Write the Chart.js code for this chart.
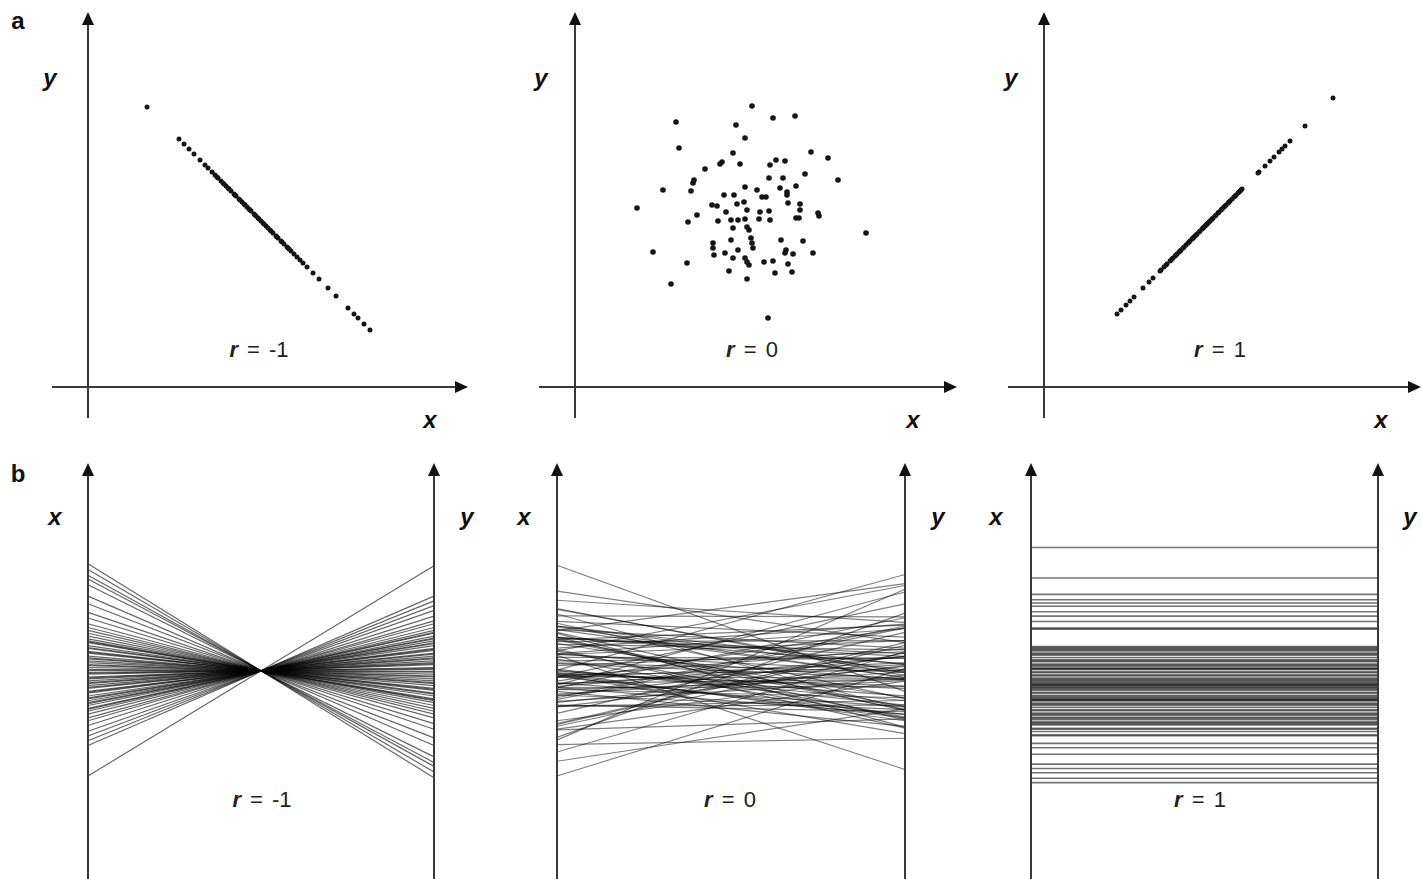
<!DOCTYPE html>
<html>
<head>
<meta charset="utf-8">
<script src="https://cdn.jsdelivr.net/npm/chart.js@4.4.1/dist/chart.umd.min.js"></script>
<style>
  html, body { margin: 0; padding: 0; background: #fff; }
  body { width: 1422px; height: 879px; position: relative; overflow: hidden;
         font-family: 'Liberation Sans', Arial, sans-serif; color: #111; }
  canvas { position: absolute; }
  .lbl { position: absolute; transform: translate(-50%, -50%); white-space: nowrap; line-height: 1; }
  .ax { font-weight: bold; font-style: italic; font-size: 24px; }
  .panel { font-weight: bold; font-size: 24px; }
  .r { font-size: 22px; word-spacing: 3px; color: #222; }
  .r i { font-weight: bold; }
</style>
</head>
<body>
<div class="lbl panel" style="left:18px;top:21px">a</div>
<div class="lbl panel" style="left:18px;top:474px">b</div>

<div class="lbl ax" style="left:50px;top:78px">y</div>
<div class="lbl ax" style="left:541px;top:78px">y</div>
<div class="lbl ax" style="left:1011px;top:78px">y</div>
<div class="lbl ax" style="left:430px;top:420px">x</div>
<div class="lbl ax" style="left:913px;top:420px">x</div>
<div class="lbl ax" style="left:1381px;top:420px">x</div>

<div class="lbl ax" style="left:55px;top:517px">x</div>
<div class="lbl ax" style="left:467px;top:517px">y</div>
<div class="lbl ax" style="left:524px;top:517px">x</div>
<div class="lbl ax" style="left:938px;top:517px">y</div>
<div class="lbl ax" style="left:996px;top:517px">x</div>
<div class="lbl ax" style="left:1410px;top:517px">y</div>

<div class="lbl r" style="left:259px;top:350px"><i>r</i> = -1</div>
<div class="lbl r" style="left:752px;top:350px"><i>r</i> = 0</div>
<div class="lbl r" style="left:1220px;top:350px"><i>r</i> = 1</div>
<div class="lbl r" style="left:262px;top:800px"><i>r</i> = -1</div>
<div class="lbl r" style="left:730px;top:800px"><i>r</i> = 0</div>
<div class="lbl r" style="left:1200px;top:800px"><i>r</i> = 1</div>

<script>
// r = -1 : y falls exactly as x rises
const negX = [28.2, 27.6, 27.0, 26.6, 26.0, 24.8, 24.0, 23.1, 22.5, 21.9, 21.5, 21.2, 20.9, 20.6, 20.3,
  20.1, 20.0, 19.9, 19.6, 19.4, 19.3, 19.0, 18.9, 18.8, 18.5, 18.3, 18.2, 18.0, 17.8, 17.6, 17.5, 17.3,
  17.1, 17.0, 16.8, 16.7, 16.6, 16.3, 16.2, 16.1, 15.9, 15.7, 15.6, 15.4, 15.2, 15.1, 14.8, 14.7, 14.6,
  14.3, 14.1, 14.0, 13.8, 13.6, 13.5, 13.3, 13.0, 12.9, 12.7, 12.4, 12.0, 11.7, 11.2, 10.6, 10.1, 9.6, 9.1, 5.9];
const negY = [5.7, 6.3, 6.9, 7.3, 7.9, 9.1, 9.9, 10.8, 11.4, 12.0, 12.4, 12.7, 13.0, 13.3, 13.6,
  13.8, 13.9, 14.0, 14.3, 14.5, 14.6, 14.9, 15.0, 15.1, 15.4, 15.6, 15.7, 15.9, 16.1, 16.3, 16.4, 16.6,
  16.8, 16.9, 17.1, 17.2, 17.3, 17.6, 17.7, 17.8, 18.0, 18.2, 18.3, 18.5, 18.7, 18.8, 19.1, 19.2, 19.3,
  19.6, 19.8, 19.9, 20.1, 20.3, 20.4, 20.6, 20.9, 21.0, 21.2, 21.5, 21.9, 22.2, 22.7, 23.3, 23.8, 24.3, 24.8, 28.0];

// r = 0 : uncorrelated cloud
const midX = [17.7, 10.1, 16.1, 17.0, 10.4, 15.8, 14.7, 14.5, 16.5, 13.0, 11.9, 11.8, 17.0, 8.8, 11.6,
  14.9, 15.9, 6.2, 13.7, 14.2, 16.2, 16.9, 15.1, 17.2, 12.2, 19.8, 22.0, 23.6, 25.3, 20.1, 21.0, 19.5,
  23.0, 19.4, 20.8, 26.3, 22.1, 18.2, 20.5, 21.2, 21.2, 18.7, 19.1, 21.3, 22.5, 22.5, 18.5, 19.4, 24.3,
  11.3, 14.3, 15.6, 16.3, 17.0, 15.8, 17.2, 17.4, 17.6, 15.6, 13.8, 13.8, 7.8, 16.3, 15.0, 13.9, 15.8,
  17.0, 17.2, 17.4, 11.2, 15.4, 9.6, 17.2, 22.1, 22.4, 24.4, 18.4, 19.5, 29.1, 17.7, 17.8, 20.6, 22.8,
  21.1, 21.0, 21.8, 23.8, 18.9, 19.8, 21.3, 20.0, 21.7, 19.3];
const midY = [28.1, 26.5, 26.2, 24.9, 23.9, 23.4, 22.5, 22.3, 22.3, 21.8, 20.7, 20.4, 20.0, 19.7, 19.6,
  19.2, 19.2, 17.9, 18.2, 18.1, 18.3, 18.5, 17.5, 17.7, 17.2, 26.9, 27.1, 23.5, 22.9, 22.7, 22.6, 22.2,
  21.3, 20.9, 20.9, 20.7, 20.1, 19.7, 19.9, 19.5, 19.2, 19.0, 19.0, 18.4, 18.3, 17.7, 17.5, 17.6, 17.4,
  16.5, 16.6, 16.7, 16.7, 16.8, 15.9, 16.0, 15.7, 14.9, 14.7, 14.4, 13.9, 13.5, 13.7, 13.4, 13.2, 12.9,
  12.9, 12.5, 12.2, 12.4, 11.6, 10.3, 10.8, 16.9, 16.9, 17.1, 16.8, 16.7, 15.4, 14.4, 13.9, 14.7, 14.6,
  13.7, 13.4, 13.3, 13.4, 12.5, 12.6, 12.3, 11.4, 11.5, 6.9];

// r = 1 : y equals x
const posX = [28.9, 26.1, 24.6, 24.1, 23.8, 23.5, 23.0, 22.6, 22.1, 21.5, 21.4, 19.8, 19.7, 19.6, 19.5,
  19.4, 19.2, 19.1, 19.0, 18.8, 18.6, 18.5, 18.4, 18.2, 18.1, 18.0, 17.8, 17.8, 17.7, 17.5, 17.4, 17.2,
  17.1, 16.9, 16.8, 16.7, 16.6, 16.5, 16.4, 16.3, 16.3, 16.2, 16.1, 16.0, 15.9, 15.8, 15.6, 15.5, 15.3,
  15.2, 15.1, 15.0, 14.9, 14.9, 14.8, 14.6, 14.5, 14.4, 14.2, 14.0, 13.9, 13.7, 13.6, 13.5, 13.3, 13.2,
  13.1, 12.9, 12.8, 12.7, 12.6, 12.3, 12.2, 12.0, 11.7, 11.6, 10.9, 10.5, 9.9, 9.0, 8.6, 8.2, 7.7, 7.3];
const posY = [28.9, 26.1, 24.6, 24.1, 23.8, 23.5, 23.0, 22.6, 22.1, 21.5, 21.4, 19.8, 19.7, 19.6, 19.5,
  19.4, 19.2, 19.1, 19.0, 18.8, 18.6, 18.5, 18.4, 18.2, 18.1, 18.0, 17.8, 17.8, 17.7, 17.5, 17.4, 17.2,
  17.1, 16.9, 16.8, 16.7, 16.6, 16.5, 16.4, 16.3, 16.3, 16.2, 16.1, 16.0, 15.9, 15.8, 15.6, 15.5, 15.3,
  15.2, 15.1, 15.0, 14.9, 14.9, 14.8, 14.6, 14.5, 14.4, 14.2, 14.0, 13.9, 13.7, 13.6, 13.5, 13.3, 13.2,
  13.1, 12.9, 12.8, 12.7, 12.6, 12.3, 12.2, 12.0, 11.7, 11.6, 10.9, 10.5, 9.9, 9.0, 8.6, 8.2, 7.7, 7.3];

const AXIS_COLOR = '#3a3a3a';
const TOP_H = 440, TOP_OY = 387, PX = 10;
const BOT_TOP = 455, BOT_W = 420, BOT_H = 424;

function arrowUp(ctx, px, tip) {
    ctx.beginPath();
    ctx.moveTo(px, tip);
    ctx.lineTo(px - 6, tip + 13);
    ctx.lineTo(px + 6, tip + 13);
    ctx.closePath();
    ctx.fill();
}

function arrowRight(ctx, tip, py) {
    ctx.beginPath();
    ctx.moveTo(tip, py);
    ctx.lineTo(tip - 13, py - 6);
    ctx.lineTo(tip - 13, py + 6);
    ctx.closePath();
    ctx.fill();
}

// draws the arrowed axes: a cross for scatter panels, two uprights for parallel panels
const arrowAxes = {
    id: 'arrowAxes',
    afterDatasetsDraw(chart, args, opts) {
        const {ctx, chartArea, scales: {x, y}} = chart;
        ctx.save();
        ctx.strokeStyle = AXIS_COLOR;
        ctx.fillStyle = '#111';
        ctx.lineWidth = 2;
        if (opts.mode === 'cross') {
            const ox = Math.round(x.getPixelForValue(0));
            const oy = Math.round(y.getPixelForValue(0));
            const yTip = y.getPixelForValue(opts.yTo);
            const xTip = x.getPixelForValue(opts.xTo);
            ctx.beginPath();
            ctx.moveTo(ox, y.getPixelForValue(opts.yFrom));
            ctx.lineTo(ox, yTip + 8);
            ctx.moveTo(x.getPixelForValue(opts.xFrom), oy);
            ctx.lineTo(xTip - 8, oy);
            ctx.stroke();
            arrowUp(ctx, ox, yTip);
            arrowRight(ctx, xTip, oy);
        } else {
            [0, 1].forEach(v => {
                const px = Math.round(x.getPixelForValue(v));
                const tip = chartArea.top + opts.tip;
                ctx.beginPath();
                ctx.moveTo(px, chartArea.bottom);
                ctx.lineTo(px, tip + 8);
                ctx.stroke();
                arrowUp(ctx, px, tip);
            });
        }
        ctx.restore();
    }
};

function makeCanvas(left, top, w, h) {
    const c = document.createElement('canvas');
    c.width = w;
    c.height = h;
    c.style.left = left + 'px';
    c.style.top = top + 'px';
    document.body.appendChild(c);
    return c;
}

const baseOptions = {
    responsive: false,
    animation: false,
    events: [],
    layout: {padding: 0, autoPadding: false}
};

function scatterPanel(left, width, originX, xs, ys, xTip, radius) {
    new Chart(makeCanvas(left, 0, width, TOP_H), {
        type: 'scatter',
        data: {
            datasets: [{
                data: xs.map((v, i) => ({x: v, y: ys[i]})),
                pointRadius: radius,
                pointBackgroundColor: '#151515',
                pointBorderWidth: 0
            }]
        },
        options: {
            ...baseOptions,
            scales: {
                x: {type: 'linear', display: false, min: (left - originX) / PX, max: (left + width - originX) / PX},
                y: {type: 'linear', display: false, min: -(TOP_H - TOP_OY) / PX, max: TOP_OY / PX}
            },
            plugins: {
                legend: {display: false},
                tooltip: {enabled: false},
                arrowAxes: {mode: 'cross', xFrom: -3.6, xTo: xTip, yFrom: -3.1, yTo: 37.5}
            }
        },
        plugins: [arrowAxes]
    });
}

function parallelPanel(left, axL, axR, zeroY, k, xs, ys, alpha, lw) {
    const span = axR - axL;
    new Chart(makeCanvas(left, BOT_TOP, BOT_W, BOT_H), {
        type: 'line',
        data: {
            datasets: xs.map((v, i) => ({
                data: [{x: 0, y: v}, {x: 1, y: ys[i]}],
                borderColor: `rgba(0,0,0,${alpha})`,
                borderWidth: lw,
                pointRadius: 0,
                tension: 0
            }))
        },
        options: {
            ...baseOptions,
            scales: {
                x: {type: 'linear', display: false, min: (left - axL) / span, max: (left + BOT_W - axL) / span},
                y: {type: 'linear', display: false, min: -(BOT_TOP + BOT_H - zeroY) / k, max: (zeroY - BOT_TOP) / k}
            },
            plugins: {
                legend: {display: false},
                tooltip: {enabled: false},
                arrowAxes: {mode: 'parallel', tip: 8}
            }
        },
        plugins: [arrowAxes]
    });
}

scatterPanel(40, 440, 88, negX, negY, 38.0, 2.5);
scatterPanel(520, 450, 575, midX, midY, 38.2, 2.8);
scatterPanel(995, 427, 1044, posX, posY, 37.7, 2.5);

parallelPanel(50, 88, 434, 832, 9.51, negX, negY, 0.6, 1.2);
parallelPanel(520, 557, 905, 833, 9.2, midX, midY, 0.5, 1.2);
parallelPanel(995, 1031, 1378, 862, 10.88, posX, posY, 0.55, 1.6);
</script>
</body>
</html>
